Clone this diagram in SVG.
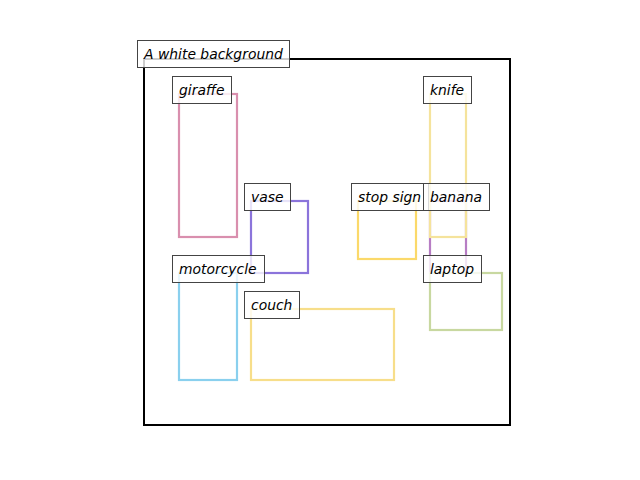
<svg xmlns="http://www.w3.org/2000/svg" width="640" height="480" viewBox="0 0 640 480">
<style>
.box{fill:none;stroke-width:2.2}
.lb{fill:#fff;fill-opacity:0.8;stroke:#444;stroke-width:1}
.lt{font-family:"DejaVu Sans",sans-serif;font-style:oblique;font-size:13.9px;fill:#000}
</style>
<rect width="640" height="480" fill="#fff"/>
<g id="frame"><rect x="144" y="59" width="366" height="366" fill="none" stroke="#000" stroke-width="2"/></g>
<g id="boxes">
<rect id="giraffe-box" class="box" x="179" y="94" width="58" height="143" stroke="#d98fae"/>
<rect id="vase-box" class="box" x="251" y="201" width="57" height="72" stroke="#8b74db"/>
<rect id="motorcycle-box" class="box" x="179" y="273" width="58" height="107" stroke="#8ad0ee"/>
<rect id="couch-box" class="box" x="251" y="309" width="143" height="71" stroke="#f7de8a"/>
<rect id="stopsign-box" class="box" x="358" y="201" width="58" height="58" stroke="#fbd96a"/>
<rect id="banana-box" class="box" x="430" y="201" width="36" height="72" stroke="#b77dc4"/>
<rect id="knife-box" class="box" x="430" y="94" width="36" height="143" stroke="#f5e39c"/>
<rect id="laptop-box" class="box" x="430" y="273" width="72" height="57" stroke="#c8d8a0"/>
</g>
<g id="label-title"><rect class="lb" x="137.5" y="40.5" width="152" height="27"/><text class="lt" x="144" y="58.5">A white background</text></g>
<g id="label-giraffe"><rect class="lb" x="172.5" y="76.5" width="59" height="27"/><text class="lt" x="179" y="94.5">giraffe</text></g>
<g id="label-knife"><rect class="lb" x="423.5" y="76.5" width="48" height="27"/><text class="lt" x="430" y="94.5">knife</text></g>
<g id="label-vase"><rect class="lb" x="244.5" y="183.5" width="46" height="27"/><text class="lt" x="251" y="201.5">vase</text></g>
<g id="label-stopsign"><rect class="lb" x="351.5" y="183.5" width="77" height="27"/><text class="lt" x="358" y="201.5">stop sign</text></g>
<g id="label-banana"><rect class="lb" x="423.5" y="183.5" width="66" height="27"/><text class="lt" x="430" y="201.5">banana</text></g>
<g id="label-motorcycle"><rect class="lb" x="172.5" y="255.5" width="92" height="27"/><text class="lt" x="179" y="273.5">motorcycle</text></g>
<g id="label-laptop"><rect class="lb" x="423.5" y="255.5" width="58" height="27"/><text class="lt" x="430" y="273.5">laptop</text></g>
<g id="label-couch"><rect class="lb" x="244.5" y="291.5" width="55" height="27"/><text class="lt" x="251" y="309.5">couch</text></g>
</svg>
